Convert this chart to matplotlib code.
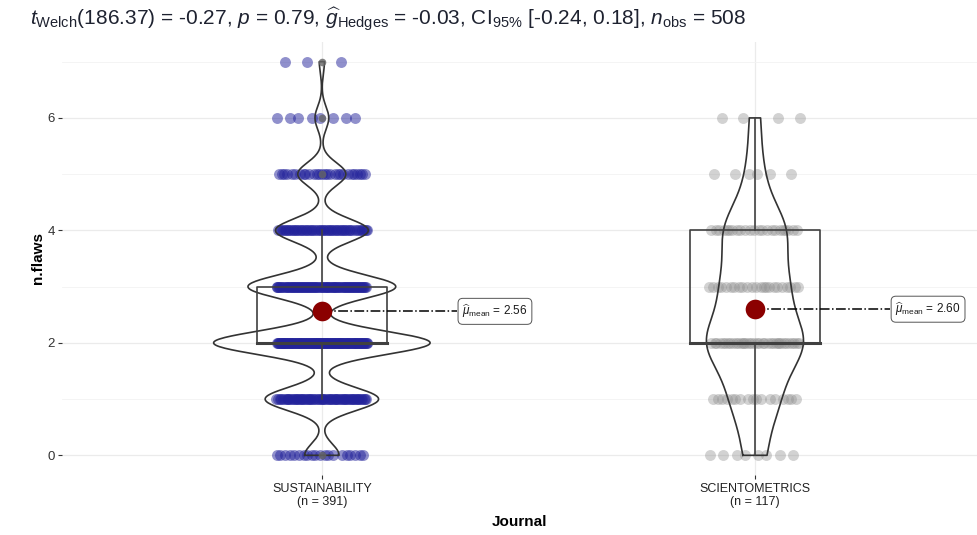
import numpy as np
import matplotlib
matplotlib.use("Agg")
import matplotlib.pyplot as plt

# ----------------------- Data ---------------------------
journals = ["SUSTAINABILITY", "SCIENTOMETRICS"]
flaw_levels = [0, 1, 2, 3, 4, 5, 6, 7]
sust_counts = [20, 66, 126, 86, 54, 28, 8, 3]      # n = 391
scio_counts = [8, 17, 36, 23, 23, 6, 4, 0]         # n = 117
mean_labels = ["2.56", "2.60"]
title_txt = (r"$t_{\mathrm{Welch}}$(186.37) = -0.27, $p$ = 0.79, "
             r"$\widehat{g}_{\mathrm{Hedges}}$ = -0.03, CI$_{95\%}$ [-0.24, 0.18], "
             r"$n_{\mathrm{obs}}$ = 508")

plt.rcParams["font.family"] = ["Liberation Sans", "DejaVu Sans"]
plt.rcParams["mathtext.fontset"] = "custom"
plt.rcParams["mathtext.rm"] = "Liberation Sans"
plt.rcParams["mathtext.it"] = "Liberation Sans:italic"
plt.rcParams["mathtext.bf"] = "Liberation Sans:bold"

groups = [np.repeat(flaw_levels, sust_counts).astype(float),
          np.repeat(flaw_levels, scio_counts).astype(float)]
point_cols = ["#23239B", "#8F8F8F"]
point_alpha = [0.5, 0.4]


def kde_nrd0(x, grid):
    n = len(x)
    q1, q3 = np.percentile(x, [25, 75])
    bw = 0.9 * min(np.std(x, ddof=1), (q3 - q1) / 1.34) * n ** -0.2
    z = (grid[:, None] - x[None, :]) / bw
    return np.exp(-0.5 * z ** 2).sum(axis=1) / (n * bw * np.sqrt(2 * np.pi))


# ----------------------- Plotting ---------------------------
fig = plt.figure(figsize=(9.77, 5.35), dpi=100)
ax = fig.add_axes([62 / 977, 1 - 475 / 535, 1 - 62 / 977, (475 - 42) / 535])
ax.set_xlim(0.4, 2 + (977 - 755) / 433)
ax.set_ylim(-0.35, 7.35)

# grid
ax.set_yticks([0, 2, 4, 6])
ax.set_yticks([1, 3, 5, 7], minor=True)
ax.set_xticks([1, 2])
ax.grid(True, which="major", color="#EBEBEB", lw=0.9)
ax.grid(True, which="minor", axis="y", color="#F3F3F3", lw=0.6)
ax.set_axisbelow(True)
for s in ax.spines.values():
    s.set_visible(False)
ax.tick_params(axis="y", which="major", length=3, color="#333333",
               labelsize=9.5, labelcolor="#333333", pad=2)
ax.tick_params(axis="y", which="minor", length=0)
ax.tick_params(axis="x", length=3, color="#333333", labelsize=9,
               labelcolor="#222222", pad=3)
ax.set_xticklabels([f"{j}\n(n = {len(g)})" for j, g in zip(journals, groups)],
                   linespacing=1.05)

# violins (area scaled, trimmed)
dens = []
for g in groups:
    grid = np.linspace(g.min(), g.max(), 512)
    dens.append((grid, kde_nrd0(g, grid)))
dmax = max(d.max() for _, d in dens)

# jittered points
for i, g in enumerate(groups):
    k = np.arange(len(g))
    off = ((k * 0.6180339887 + 0.3) % 1.0) * 2 - 1
    ax.scatter(i + 1 + off * 0.105, g, s=62, color=point_cols[i],
               alpha=point_alpha[i], linewidths=0, zorder=2)

for i, g in enumerate(groups):
    pos = i + 1
    grid, d = dens[i]
    hw = 0.25 * d / dmax
    xs = np.concatenate([pos - hw, (pos + hw)[::-1], [pos - hw[0]]])
    ys = np.concatenate([grid, grid[::-1], [grid[0]]])
    ax.plot(xs, ys, color="#333333", lw=1.2, zorder=3)

    # boxplot
    q1, med, q3 = np.percentile(g, [25, 50, 75])
    iqr = q3 - q1
    lo = g[g >= q1 - 1.5 * iqr].min()
    hi = g[g <= q3 + 1.5 * iqr].max()
    bw = 0.15
    ax.plot([pos - bw, pos + bw, pos + bw, pos - bw, pos - bw],
            [q1, q1, q3, q3, q1], color="#404040", lw=1.2, zorder=3)
    ax.plot([pos - bw, pos + bw], [med, med], color="#404040", lw=2.2, zorder=3)
    ax.plot([pos, pos], [q3, hi], color="#404040", lw=1.2, zorder=3)
    ax.plot([pos, pos], [lo, q1], color="#404040", lw=1.2, zorder=3)
    outl = np.unique(g[(g < lo) | (g > hi)])
    ax.scatter(np.full(len(outl), pos), outl, s=30, color="#666666",
               alpha=0.8, linewidths=0, zorder=3)

    # mean and label
    m = g.mean()
    lx = pos + 0.312
    ax.plot([pos, lx], [m, m], color="black", lw=1.1, ls="-.", zorder=3)
    ax.scatter([pos], [m], s=200, color="#8B0000", zorder=4, linewidths=0)
    ax.text(lx + 0.012, m, r"$\widehat{\mu}_{\mathrm{mean}}$" + f" = {mean_labels[i]}",
            ha="left", va="center", fontsize=8.5, color="#1A1A1A", zorder=5,
            bbox=dict(boxstyle="round,pad=0.35,rounding_size=0.4",
                      fc="white", ec="#555555", lw=0.7))

ax.set_xlabel("Journal", fontsize=11, fontweight="bold", labelpad=5)
ax.set_ylabel("n.flaws", fontsize=11, fontweight="bold", labelpad=2)

fig.text(30 / 977, 1 - 19 / 535, title_txt, fontsize=15, color="#1E2230",
         ha="left", va="center")

fig.savefig("out.png", dpi=100)
